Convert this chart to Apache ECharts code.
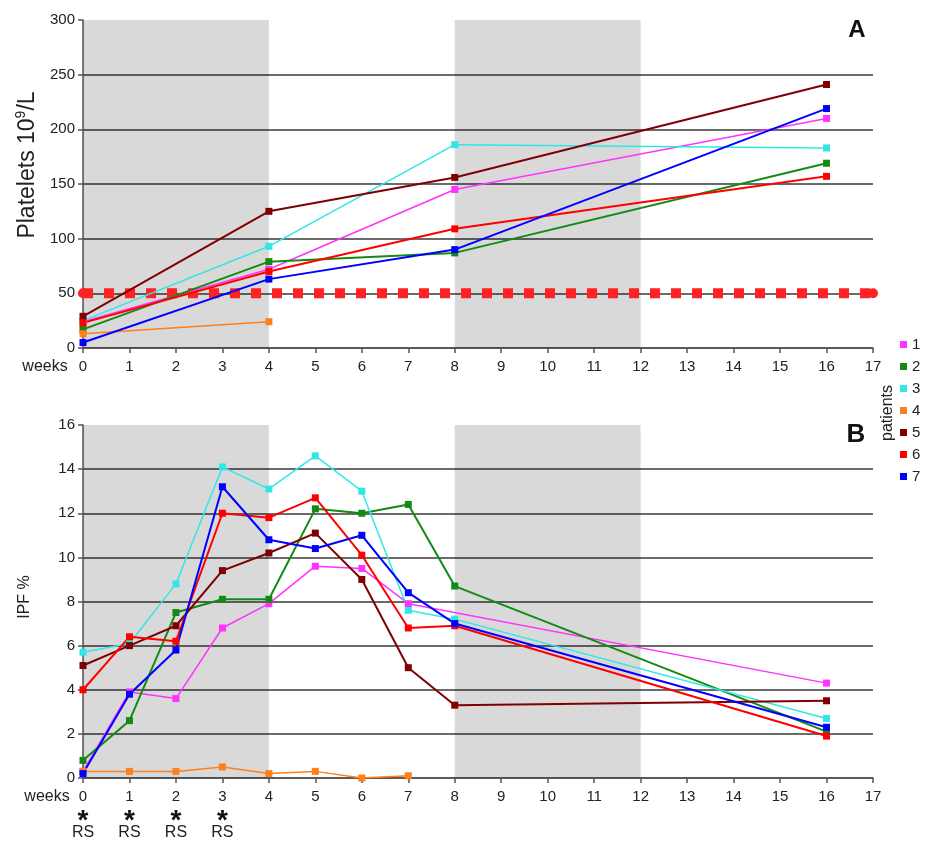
<!DOCTYPE html>
<html>
<head>
<meta charset="utf-8">
<title>Platelets and IPF</title>
<script src="https://cdn.jsdelivr.net/npm/echarts@6/dist/echarts.min.js"></script>
<style>
  html, body { margin: 0; padding: 0; background: #fff; }
  #chart { width: 925px; height: 841px; }
</style>
</head>
<body>
<div id="chart"></div>
<script>
// patients, legend labels
const patients = ['1', '2', '3', '4', '5', '6', '7'];
const colors = ['#ff33ff', '#138a13', '#33e6e6', '#ff7f1a', '#7f0000', '#ff0000', '#0000ff'];

// panel A - platelets (10^9/L), measured at these weeks
const weeksA = [0, 4, 8, 16];
const plt1 = [24, 72, 145, 210];
const plt2 = [17, 79, 87, 169];
const plt3 = [25, 93, 186, 183];
const plt4 = [13, 24, null, null];
const plt5 = [29, 125, 156, 241];
const plt6 = [23, 70, 109, 157];
const plt7 = [5, 63, 90, 219];
const threshold = 50;

// panel B - IPF %
const weeksB = [0, 1, 2, 3, 4, 5, 6, 7, 8, 16];
const ipf1 = [0.3, 3.9, 3.6, 6.8, 7.9, 9.6, 9.5, 7.9, null, 4.3];
const ipf2 = [0.8, 2.6, 7.5, 8.1, 8.1, 12.2, 12.0, 12.4, 8.7, 2.1];
const ipf3 = [5.7, 6.1, 8.8, 14.1, 13.1, 14.6, 13.0, 7.6, 7.2, 2.7];
const ipf4 = [0.3, 0.3, 0.3, 0.5, 0.2, 0.3, 0.0, 0.1, null, null];
const ipf5 = [5.1, 6.0, 6.9, 9.4, 10.2, 11.1, 9.0, 5.0, 3.3, 3.5];
const ipf6 = [4.0, 6.4, 6.2, 12.0, 11.8, 12.7, 10.1, 6.8, 6.9, 1.9];
const ipf7 = [0.2, 3.8, 5.8, 13.2, 10.8, 10.4, 11.0, 8.4, 7.0, 2.3];

// treatment blocks (shaded), weeks
const shaded = [[0, 4], [8, 12]];
// weeks with RS given
const rsWeeks = [0, 1, 2, 3];

const pltData = [plt1, plt2, plt3, plt4, plt5, plt6, plt7];
const ipfData = [ipf1, ipf2, ipf3, ipf4, ipf5, ipf6, ipf7];

const font = 'Liberation Sans, Arial, sans-serif';
const axisColor = '#555';

function pairs(xs, ys) {
  const out = [];
  xs.forEach((x, i) => {
    if (ys[i] !== null) out.push([x, ys[i]]);
  });
  return out;
}

function xAxisOf(gridIndex, withRs) {
  return {
    type: 'value',
    gridIndex,
    min: 0,
    max: 17,
    interval: 1,
    splitLine: { show: false },
    axisLine: { onZero: false, lineStyle: { color: axisColor, width: 1.5 } },
    axisTick: { show: true, length: 5, lineStyle: { color: axisColor, width: 1.5 } },
    axisLabel: {
      margin: 10,
      color: '#222',
      fontFamily: font,
      formatter: (v) => (withRs && rsWeeks.includes(v)) ? `{n|${v}}\n{s|*}\n{r|RS}` : `{n|${v}}`,
      rich: {
        n: { fontSize: 15, lineHeight: 18, fontFamily: font, color: '#222' },
        s: { fontSize: 28, lineHeight: 18, fontWeight: 'bold', fontFamily: font, color: '#111', padding: [12, 0, 0, 0] },
        r: { fontSize: 16, lineHeight: 18, fontFamily: font, color: '#222' }
      }
    }
  };
}

function yAxisOf(gridIndex, max, interval) {
  return {
    type: 'value',
    gridIndex,
    min: 0,
    max,
    interval,
    axisLine: { show: true, lineStyle: { color: axisColor, width: 1.5 } },
    axisTick: { show: true, length: 5, lineStyle: { color: axisColor, width: 1.5 } },
    axisLabel: { margin: 8, fontSize: 15, color: '#222', fontFamily: font },
    splitLine: { show: true, showMaxLine: false, lineStyle: { color: '#3a3a3a', width: 1.5 } }
  };
}

const series = [];

// shaded blocks behind everything
[0, 1].forEach((g) => {
  series.push({
    type: 'line',
    xAxisIndex: g,
    yAxisIndex: g,
    data: [],
    silent: true,
    z: 1,
    markArea: {
      silent: true,
      itemStyle: { color: 'rgba(0,0,0,0.15)' },
      data: shaded.map(([a, b]) => [{ xAxis: a }, { xAxis: b }])
    }
  });
});

// threshold 50 x 10^9/L
series.push({
  type: 'line',
  xAxisIndex: 0,
  yAxisIndex: 0,
  data: [[0, threshold], [17, threshold]],
  symbol: 'circle',
  symbolSize: 10,
  itemStyle: { color: '#ff2222' },
  lineStyle: { color: '#ff2222', width: 10, type: [10, 11], cap: 'butt' },
  silent: true,
  z: 2
});

patients.forEach((p, i) => {
  const thin = (i === 0 || i === 2 || i === 3);
  const common = {
    name: p,
    type: 'line',
    symbol: 'rect',
    symbolSize: 7,
    showAllSymbol: true,
    color: colors[i],
    lineStyle: { width: thin ? 1.5 : 2, color: colors[i] },
    itemStyle: { color: colors[i] },
    z: 3
  };
  series.push(Object.assign({}, common, {
    xAxisIndex: 0, yAxisIndex: 0, data: pairs(weeksA, pltData[i])
  }));
  series.push(Object.assign({}, common, {
    xAxisIndex: 1, yAxisIndex: 1, data: pairs(weeksB, ipfData[i])
  }));
});

const option = {
  animation: false,
  backgroundColor: '#fff',
  textStyle: { fontFamily: font },
  grid: [
    { left: 83, right: 52, top: 20, height: 328 },
    { left: 83, right: 52, top: 425, height: 353 }
  ],
  xAxis: [xAxisOf(0, false), xAxisOf(1, true)],
  yAxis: [yAxisOf(0, 300, 50), yAxisOf(1, 16, 2)],
  legend: {
    data: patients,
    orient: 'vertical',
    left: 895,
    top: 332,
    icon: 'rect',
    itemWidth: 7,
    itemHeight: 7,
    itemGap: 7,
    textStyle: { fontSize: 15, color: '#222', fontFamily: font }
  },
  graphic: [
    {
      type: 'text', x: 28, y: 165, rotation: Math.PI / 2,
      style: {
        text: '{a|Platelets 10}{s|9}{a|/L}',
        align: 'center', verticalAlign: 'middle',
        rich: {
          a: { fontSize: 23, fontFamily: font, fill: '#222', lineHeight: 28 },
          s: { fontSize: 14, fontFamily: font, fill: '#222', lineHeight: 28, padding: [0, 0, 13, 0] }
        }
      }
    },
    {
      type: 'text', x: 25, y: 597, rotation: Math.PI / 2,
      style: { text: 'IPF %', fontSize: 16, fontFamily: font, fill: '#222', align: 'center', verticalAlign: 'middle' }
    },
    {
      type: 'text', x: 45, y: 367,
      style: { text: 'weeks', fontSize: 16, fontFamily: font, fill: '#222', align: 'center', verticalAlign: 'middle' }
    },
    {
      type: 'text', x: 47, y: 797,
      style: { text: 'weeks', fontSize: 16, fontFamily: font, fill: '#222', align: 'center', verticalAlign: 'middle' }
    },
    {
      type: 'text', x: 857, y: 30,
      style: { text: 'A', fontSize: 24, fontWeight: 'bold', fontFamily: font, fill: '#111', align: 'center', verticalAlign: 'middle' }
    },
    {
      type: 'text', x: 856, y: 435,
      style: { text: 'B', fontSize: 26, fontWeight: 'bold', fontFamily: font, fill: '#111', align: 'center', verticalAlign: 'middle' }
    },
    {
      type: 'text', x: 888, y: 413, rotation: Math.PI / 2,
      style: { text: 'patients', fontSize: 16, fontFamily: font, fill: '#222', align: 'center', verticalAlign: 'middle' }
    }
  ],
  series
};

const chart = echarts.init(document.getElementById('chart'));
chart.setOption(option);
</script>
</body>
</html>
